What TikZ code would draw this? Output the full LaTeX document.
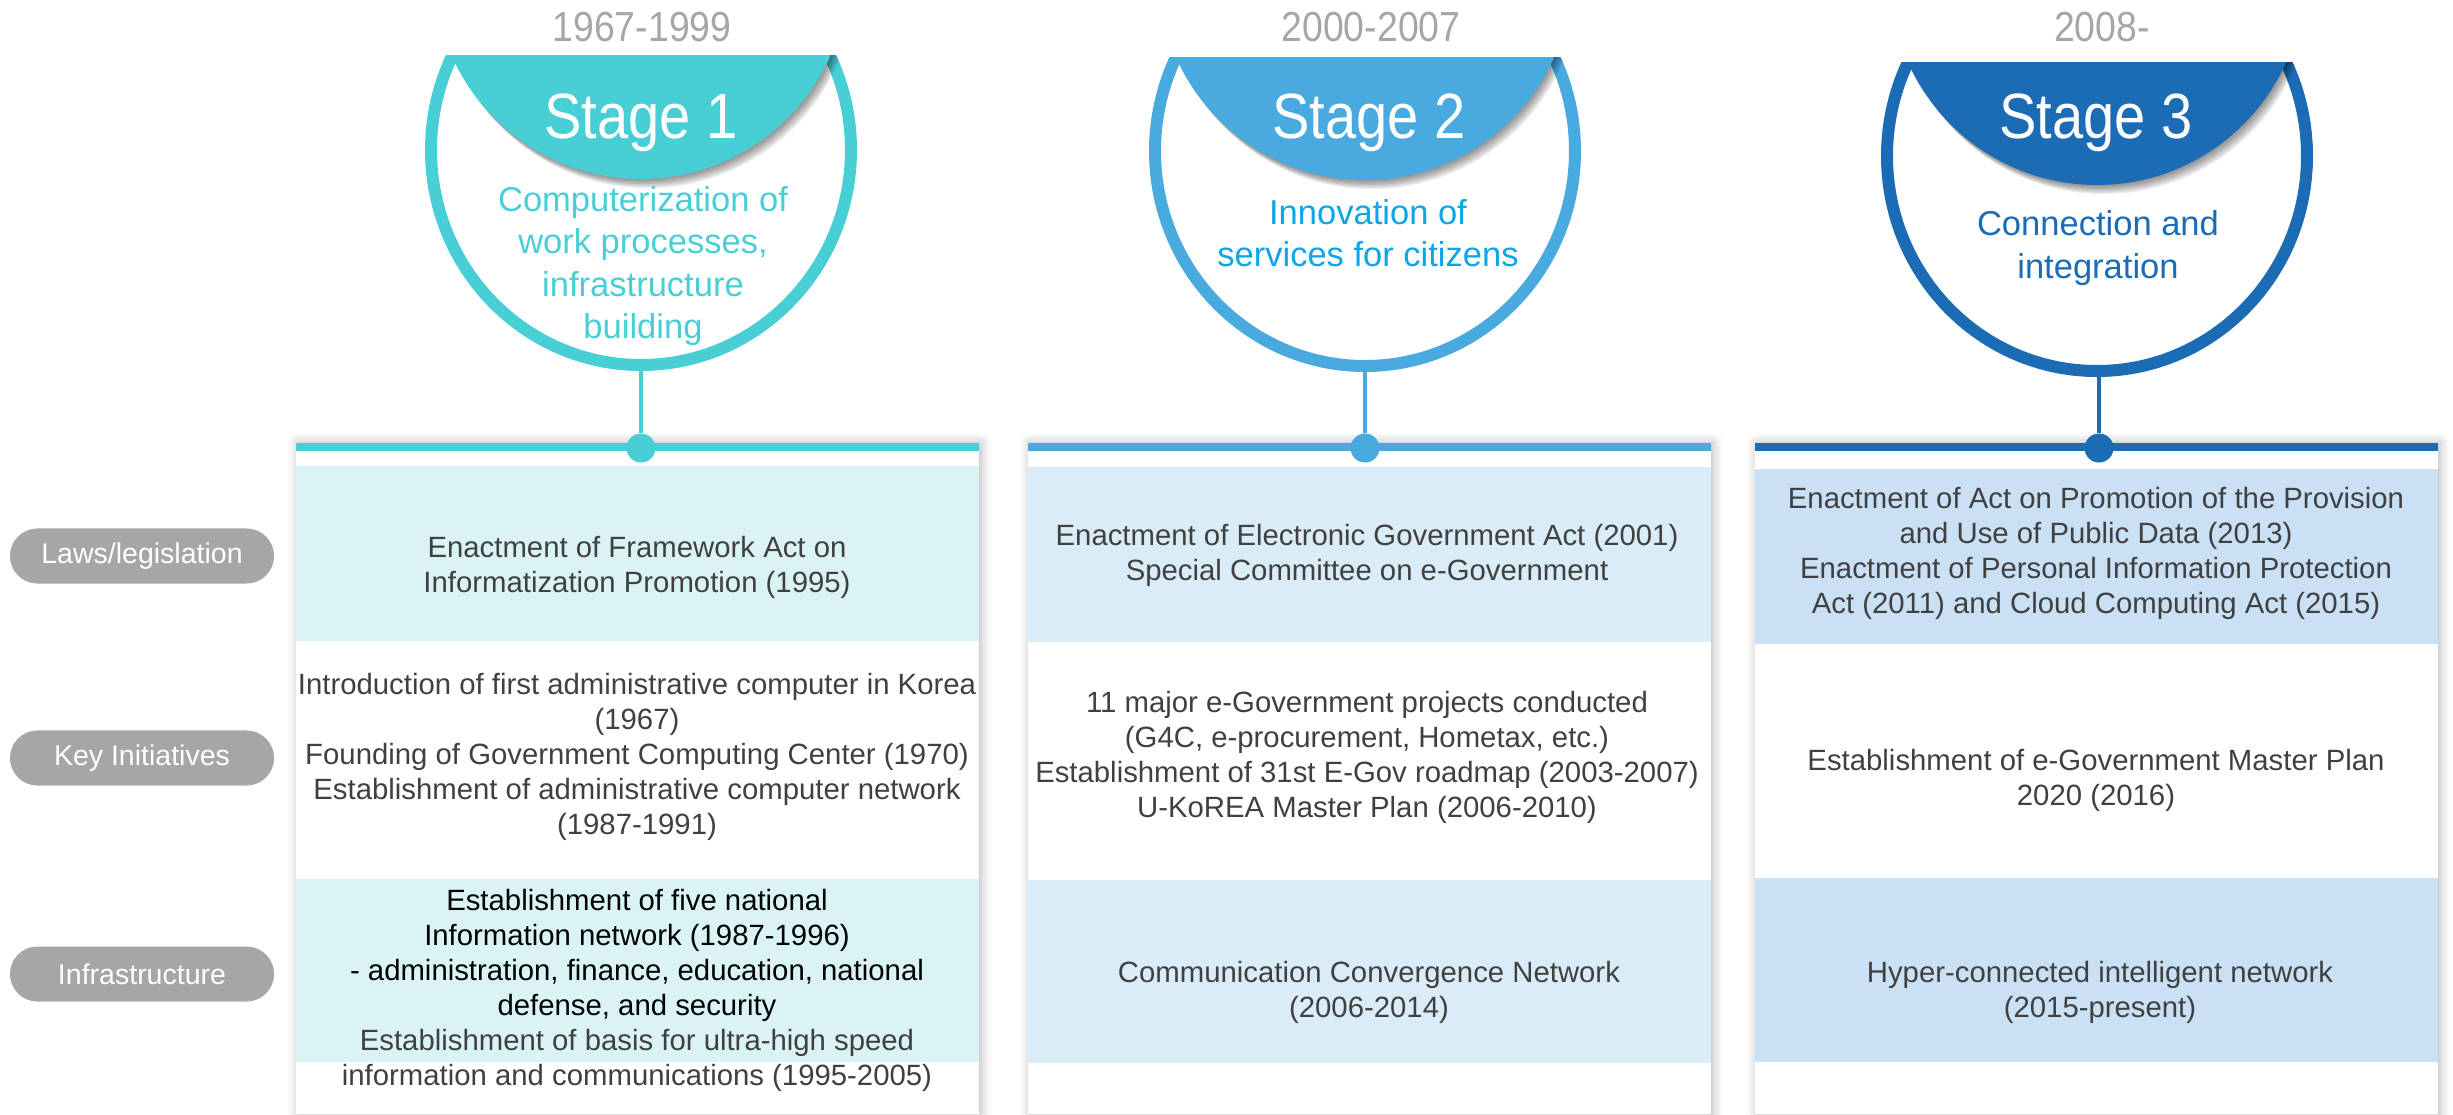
\documentclass[tikz,border=0pt]{standalone}
\usepackage{fontspec}
\setmainfont{Liberation Sans}
\usetikzlibrary{shadows.blur}
\definecolor{cA}{HTML}{48CFD6}
\definecolor{cB}{HTML}{48AADF}
\definecolor{cC}{HTML}{1B6CB5}
\definecolor{rA}{HTML}{DAF4F6}
\definecolor{rB}{HTML}{DAECF8}
\definecolor{rC}{HTML}{C9E0F5}
\definecolor{subB}{HTML}{0BA6E8}
\definecolor{txt}{HTML}{404040}
\definecolor{yearg}{HTML}{A6A6A6}
\definecolor{pillg}{HTML}{A6A6A6}
\tikzset{
  body/.style={font=\fontsize{8.34pt}{9.96pt}\selectfont, text=txt, align=center, inner sep=0pt},
  subtl/.style={font=\fontsize{9.82pt}{12.09pt}\selectfont, align=center, inner sep=0pt},
  stagelbl/.style={font=\fontsize{18.2pt}{20pt}\selectfont, text=white, inner sep=0pt},
  yearlbl/.style={font=\fontsize{11.95pt}{14pt}\selectfont, text=yearg, inner sep=0pt},
  pill/.style={fill=pillg, rounded corners=0.275cm, minimum width=2.64cm, minimum height=0.55cm,
     text=white, font=\fontsize{8.11pt}{9.7pt}\selectfont, inner sep=0pt},
  dotnode/.style={circle, inner sep=0pt, minimum size=0.29cm},
  panel/.style={fill=white, blur shadow={shadow xshift=0.02cm, shadow yshift=0cm, shadow blur radius=0.1cm, shadow opacity=30}},
}
% #1 cx, #2 cy, #3 ytop, #4 colour
\newcommand\stagecup[4]{%
  \begin{scope}
    \clip ({#1-240},#3) rectangle ({#1+240},{#2+240});
    \draw[#4, line width=0.12cm] (#1,#2) ellipse [x radius=210, y radius=215];
  \end{scope}
  \begin{scope}
    \clip (#1,#2) ellipse [x radius=216, y radius=221];
    \clip ({#1-240},#3) rectangle ({#1+240},{#2+240});
    \foreach \k in {1,...,7}
      \fill[black, opacity=0.07] ({#1+1.0*\k},{#2-178+1.3*\k}) circle [radius=207];
  \end{scope}
  \begin{scope}
    \clip (#1,#2) ellipse [x radius=216, y radius=221];
    \clip ({#1-240},#3) rectangle ({#1+240},{#2+240});
    \fill[#4] (#1,{#2-178}) circle [radius=207];
  \end{scope}
}
\begin{document}
\begin{tikzpicture}[x=0.01cm, y=-0.01cm]
\useasboundingbox (0,0) rectangle (2453,1114);

% ---------- panels ----------
\fill[panel] (296,443) rectangle (979,1114);
\fill[panel] (1028,443) rectangle (1711,1114);
\fill[panel] (1755,443) rectangle (2438,1114);

\fill[rA] (296,466) rectangle (979,641);
\fill[rA] (296,879) rectangle (979,1062);
\fill[rB] (1028,467) rectangle (1711,642);
\fill[rB] (1028,880) rectangle (1711,1063);
\fill[rC] (1755,469) rectangle (2438,644);
\fill[rC] (1755,878) rectangle (2438,1062);

\fill[cA] (296,443) rectangle (979,451);
\fill[cB] (1028,443) rectangle (1711,451);
\fill[cC] (1755,443) rectangle (2438,451);

% ---------- cups ----------
\stagecup{641}{150}{55}{cA}
\stagecup{1365}{151}{57}{cB}
\stagecup{2097}{156}{62}{cC}

\coordinate (b1) at (641,365);
\coordinate (b2) at (1365,366);
\coordinate (b3) at (2099,371);
\node[dotnode, fill=cA] (d1) at (641,448) {};
\node[dotnode, fill=cB] (d2) at (1365,448) {};
\node[dotnode, fill=cC] (d3) at (2099,448) {};
\draw[cA, line width=0.045cm] (b1) -- (d1);
\draw[cB, line width=0.045cm] (b2) -- (d2);
\draw[cC, line width=0.045cm] (b3) -- (d3);

% ---------- headings ----------
\node[yearlbl] (y1) at (642,27) {\scalebox{0.89}[1]{1967-1999}};
\node[yearlbl] (y2) at (1371,27) {\scalebox{0.89}[1]{2000-2007}};
\node[yearlbl] (y3) at (2102,27) {\scalebox{0.89}[1]{2008-}};

\node[stagelbl] (s1) at (641,123) {\scalebox{0.875}[1]{Stage 1}};
\node[stagelbl] (s2) at (1369,123) {\scalebox{0.875}[1]{Stage 2}};
\node[stagelbl] (s3) at (2096,123) {\scalebox{0.875}[1]{Stage 3}};

\node[subtl, text=cA] (t1) at (643,266) {Computerization of\\work processes,\\infrastructure\\building};
\node[subtl, text=subB] (t2) at (1368,233) {Innovation of\\services for citizens};
\node[subtl, text=cC] (t3) at (2098,248) {Connection and\\integration};

% ---------- row labels ----------
\node[pill] (p1) at (142,556) {Laws/legislation};
\node[pill] (p2) at (142,758) {Key Initiatives};
\node[pill] (p3) at (142,974) {Infrastructure};

% ---------- column 1 ----------
\node[body] (a1) at (637,567) {Enactment of Framework Act on\\Informatization Promotion (1995)};
\node[body] (a2) at (637,757) {Introduction of first administrative computer in Korea\\(1967)\\Founding of Government Computing Center (1970)\\Establishment of administrative computer network\\(1987-1991)};
\node[body] (a3) at (637,990) {\textcolor{black}{Establishment of five national}\\\textcolor{black}{Information network (1987-1996)}\\\textcolor{black}{- administration, finance, education, national}\\\textcolor{black}{defense, and security}\\Establishment of basis for ultra-high speed\\information and communications (1995-2005)};

% ---------- column 2 ----------
\node[body] (b1t) at (1367,555) {Enactment of Electronic Government Act (2001)\\Special Committee on e-Government};
\node[body] (b2t) at (1367,757) {11 major e-Government projects conducted\\(G4C, e-procurement, Hometax, etc.)\\Establishment of 31st E-Gov roadmap (2003-2007)\\U-KoREA Master Plan (2006-2010)};
\node[body] (b3t) at (1369,992) {Communication Convergence Network\\(2006-2014)};

% ---------- column 3 ----------
\node[body] (c1t) at (2096,553) {Enactment of Act on Promotion of the Provision\\and Use of Public Data (2013)\\Enactment of Personal Information Protection\\Act (2011) and Cloud Computing Act (2015)};
\node[body] (c2t) at (2096,780) {Establishment of e-Government Master Plan\\2020 (2016)};
\node[body] (c3t) at (2100,992) {Hyper-connected intelligent network\\(2015-present)};
\end{tikzpicture}
\end{document}
